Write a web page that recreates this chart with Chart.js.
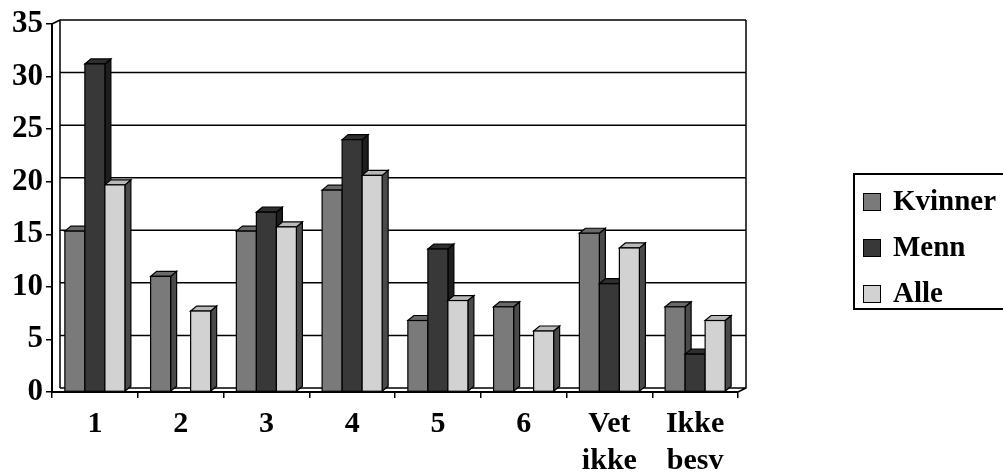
<!DOCTYPE html>
<html>
<head>
<meta charset="utf-8">
<script src="https://cdn.jsdelivr.net/npm/chart.js@4"></script>
<style>
  html, body { margin: 0; padding: 0; background: #fff; }
  #wrap { position: relative; width: 1003px; height: 474px; overflow: hidden; }
  #legend {
    position: absolute; left: 853px; top: 173px; width: 170px; height: 137px;
    border: 2px solid #000; box-sizing: border-box;
    font: bold 29px "Liberation Serif", "Times New Roman", serif; color: #000;
  }
  #legend div { position: absolute; left: 8px; height: 32px; line-height: 32px; white-space: nowrap; }
  #legend span.sw { display: inline-block; width: 16px; height: 16px; border: 1px solid #000; margin-right: 12px; vertical-align: -1px; }
</style>
</head>
<body>
<div id="wrap">
  <canvas id="chart" width="1003" height="474"></canvas>
  <div id="legend"></div>
</div>
<script>
const categories = ['1', '2', '3', '4', '5', '6', ['Vet', 'ikke'], ['Ikke', 'besv']];
const seriesNames = ['Kvinner', 'Menn', 'Alle'];
const kvinner = [15.3, 11, 15.3, 19.2, 6.8, 8.1, 15.1, 8.1];
const menn = [31.2, 0, 17.1, 24.0, 13.6, 0, 10.3, 3.6];
const alle = [19.7, 7.7, 15.7, 20.6, 8.7, 5.8, 13.7, 6.8];
const yTicks = [0, 5, 10, 15, 20, 25, 30, 35];

const fronts = ['#7a7a7a', '#383838', '#d2d2d2'];
const sides = ['#4a4a4a', '#1e1e1e', '#4a4a4a'];
const tops = ['#6a6a6a', '#2e2e2e', '#b8b8b8'];
const font = { family: '"Liberation Serif", "Times New Roman", serif', size: 31, weight: 'bold' };

// depth offsets for the bars and the back wall
const bx = 6, by = -5;
const wx = 8, wy = -4;

const wall = {
  id: 'wall',
  beforeDatasetsDraw(chart) {
    const { ctx, chartArea: a, scales: { y } } = chart;
    ctx.save();
    ctx.strokeStyle = '#000';
    ctx.lineWidth = 1.5;
    ctx.beginPath();
    yTicks.forEach(v => {
      const py = y.getPixelForValue(v) + wy;
      ctx.moveTo(a.left + wx, py);
      ctx.lineTo(a.right + wx, py);
    });
    ctx.moveTo(a.left + wx, a.top + wy);
    ctx.lineTo(a.left + wx, a.bottom + wy);
    ctx.moveTo(a.right + wx, a.top + wy);
    ctx.lineTo(a.right + wx, a.bottom + wy);
    ctx.lineTo(a.right, a.bottom);
    ctx.moveTo(a.left, a.top);
    ctx.lineTo(a.left + wx, a.top + wy);
    ctx.stroke();
    ctx.restore();
  },
  beforeDatasetDraw() {
    return false;
  },
  afterDatasetsDraw(chart) {
    const ctx = chart.ctx;
    ctx.save();
    ctx.strokeStyle = '#000';
    ctx.lineWidth = 1.2;
    const n = chart.data.labels.length;
    for (let c = 0; c < n; c++) {
      chart.data.datasets.forEach((ds, i) => {
        if (!ds.data[c]) return;
        const el = chart.getDatasetMeta(i).data[c];
        const x0 = el.x - el.width / 2, x1 = el.x + el.width / 2;
        const yt = el.y, yb = el.base;
        ctx.fillStyle = sides[i];
        ctx.beginPath();
        ctx.moveTo(x1, yb); ctx.lineTo(x1 + bx, yb + by); ctx.lineTo(x1 + bx, yt + by); ctx.lineTo(x1, yt);
        ctx.closePath(); ctx.fill(); ctx.stroke();
        ctx.fillStyle = tops[i];
        ctx.beginPath();
        ctx.moveTo(x0, yt); ctx.lineTo(x0 + bx, yt + by); ctx.lineTo(x1 + bx, yt + by); ctx.lineTo(x1, yt);
        ctx.closePath(); ctx.fill(); ctx.stroke();
        ctx.fillStyle = fronts[i];
        ctx.fillRect(x0, yt, x1 - x0, yb - yt);
        ctx.strokeRect(x0, yt, x1 - x0, yb - yt);
      });
    }
    ctx.restore();
  }
};

new Chart(document.getElementById('chart'), {
  type: 'bar',
  data: {
    labels: categories,
    datasets: [
      { label: seriesNames[0], data: kvinner, backgroundColor: fronts[0] },
      { label: seriesNames[1], data: menn, backgroundColor: fronts[1] },
      { label: seriesNames[2], data: alle, backgroundColor: fronts[2] }
    ]
  },
  options: {
    responsive: false,
    animation: false,
    layout: { padding: { top: 24, right: 265, left: 0, bottom: 0 } },
    categoryPercentage: 0.7,
    barPercentage: 1.0,
    plugins: { legend: { display: false }, tooltip: { enabled: false } },
    scales: {
      x: {
        grid: { display: true, drawOnChartArea: false, color: '#000', tickLength: 6, lineWidth: 1.5 },
        border: { display: true, color: '#000', width: 2 },
        ticks: { color: '#000', font: { ...font, size: 30, lineHeight: '37px' }, padding: 8, maxRotation: 0, autoSkip: false },
        afterFit: s => { s.height = 82; }
      },
      y: {
        min: 0, max: 35,
        ticks: { stepSize: 5, color: '#000', font, padding: 3 },
        grid: { display: true, drawOnChartArea: false, color: '#000', tickLength: 6, lineWidth: 1.5 },
        border: { display: true, color: '#000', width: 2 },
        afterFit: s => { s.width = 52; }
      }
    }
  },
  plugins: [wall]
});

// legend box
const legend = document.getElementById('legend');
seriesNames.forEach((name, i) => {
  const row = document.createElement('div');
  row.style.top = (9 + i * 46) + 'px';
  row.innerHTML = '<span class="sw" style="background:' + fronts[i] + '"></span>' + name;
  legend.appendChild(row);
});
</script>
</body>
</html>
